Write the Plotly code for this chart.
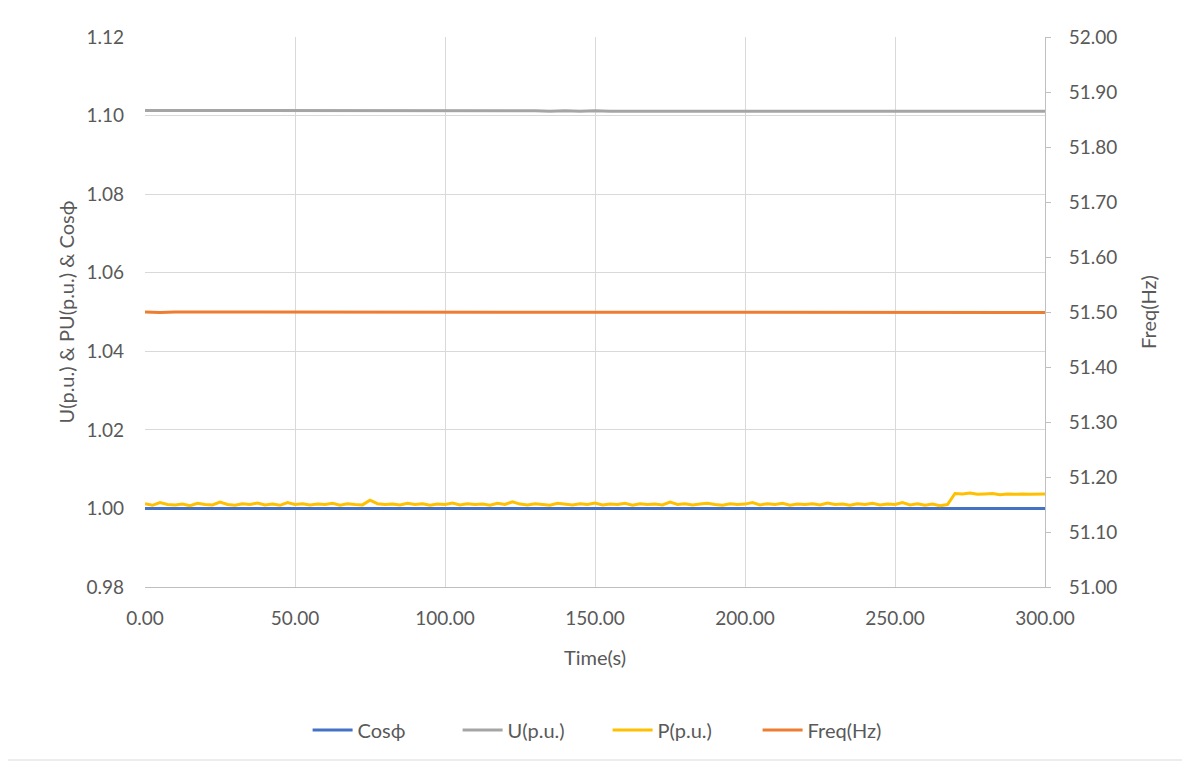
import plotly.graph_objects as go

# ---------------- data ----------------
T_FINE = [i * 2.5 for i in range(121)]      # time (s) for P
T = [i * 5 for i in range(61)]              # time (s) for other series

COS_PHI = [1.0000, 1.0000, 1.0000, 1.0000, 1.0000, 1.0000, 1.0000, 1.0000, 1.0000, 1.0000,
           1.0000, 1.0000, 1.0000, 1.0000, 1.0000, 1.0000, 1.0000, 1.0000, 1.0000, 1.0000,
           1.0000, 1.0000, 1.0000, 1.0000, 1.0000, 1.0000, 1.0000, 1.0000, 1.0000, 1.0000,
           1.0000, 1.0000, 1.0000, 1.0000, 1.0000, 1.0000, 1.0000, 1.0000, 1.0000, 1.0000,
           1.0000, 1.0000, 1.0000, 1.0000, 1.0000, 1.0000, 1.0000, 1.0000, 1.0000, 1.0000,
           1.0000, 1.0000, 1.0000, 1.0000, 1.0000, 1.0000, 1.0000, 1.0000, 1.0000, 1.0000,
           1.0000]

U_PU = [1.1013, 1.1013, 1.1013, 1.1013, 1.1013, 1.1013, 1.1013, 1.1013, 1.1013, 1.1013,
        1.1013, 1.1013, 1.1013, 1.1013, 1.1013, 1.1013, 1.1013, 1.1013, 1.1013, 1.1013,
        1.1013, 1.1013, 1.1013, 1.1013, 1.1013, 1.1012, 1.1012, 1.1011, 1.1012, 1.1011,
        1.1012, 1.1011, 1.1011, 1.1012, 1.1011, 1.1011, 1.1012, 1.1011, 1.1011, 1.1011,
        1.1012, 1.1011, 1.1011, 1.1011, 1.1011, 1.1012, 1.1011, 1.1011, 1.1011, 1.1011,
        1.1011, 1.1011, 1.1011, 1.1011, 1.1011, 1.1011, 1.1011, 1.1011, 1.1011, 1.1011,
        1.1011]

P_PU = [1.0012, 1.0008, 1.0015, 1.0010, 1.0009, 1.0011, 1.0007, 1.0013, 1.0010, 1.0009,
        1.0016, 1.0010, 1.0008, 1.0012, 1.0010, 1.0014, 1.0009, 1.0011, 1.0008, 1.0015,
        1.0010, 1.0012, 1.0009, 1.0011, 1.0010, 1.0013, 1.0008, 1.0012, 1.0010, 1.0009,
        1.0021, 1.0012, 1.0010, 1.0011, 1.0009, 1.0013, 1.0010, 1.0012, 1.0008, 1.0011,
        1.0010, 1.0014, 1.0009, 1.0012, 1.0010, 1.0011, 1.0008, 1.0013, 1.0010, 1.0017,
        1.0011, 1.0009, 1.0012, 1.0010, 1.0008, 1.0013, 1.0011, 1.0009, 1.0012, 1.0010,
        1.0014, 1.0009, 1.0011, 1.0010, 1.0013, 1.0008, 1.0012, 1.0010, 1.0011, 1.0009,
        1.0016, 1.0010, 1.0012, 1.0009, 1.0011, 1.0013, 1.0010, 1.0008, 1.0012, 1.0010,
        1.0011, 1.0015, 1.0009, 1.0012, 1.0010, 1.0013, 1.0008, 1.0011, 1.0010, 1.0012,
        1.0009, 1.0014, 1.0010, 1.0011, 1.0008, 1.0012, 1.0010, 1.0013, 1.0009, 1.0011,
        1.0010, 1.0015, 1.0009, 1.0012, 1.0008, 1.0011, 1.0007, 1.0010, 1.0038, 1.0037,
        1.0039, 1.0036, 1.0037, 1.0038, 1.0035, 1.0037, 1.0036, 1.0037, 1.0036, 1.0037,
        1.0037]

FREQ_HZ = [51.500, 51.499, 51.500, 51.500, 51.499, 51.500, 51.500, 51.499, 51.500, 51.500,
           51.500, 51.499, 51.500, 51.500, 51.499, 51.500, 51.500, 51.500, 51.499, 51.500,
           51.500, 51.499, 51.500, 51.500, 51.499, 51.500, 51.500, 51.499, 51.500, 51.500,
           51.499, 51.500, 51.500, 51.499, 51.500, 51.500, 51.499, 51.500, 51.500, 51.499,
           51.500, 51.500, 51.499, 51.500, 51.500, 51.499, 51.500, 51.500, 51.499, 51.500,
           51.500, 51.499, 51.500, 51.500, 51.499, 51.500, 51.500, 51.499, 51.500, 51.500,
           51.499]

NAMES = ["Cosϕ", "U(p.u.)", "P(p.u.)", "Freq(Hz)"]
COLORS = ["#4472C4", "#A5A5A5", "#FFC000", "#ED7D31"]

X_TICKS = [0, 50, 100, 150, 200, 250, 300]
Y_TICKS = [0.98, 1.00, 1.02, 1.04, 1.06, 1.08, 1.10, 1.12]
Y2_TICKS = [51.0, 51.1, 51.2, 51.3, 51.4, 51.5, 51.6, 51.7, 51.8, 51.9, 52.0]

# ---------------- figure ----------------
FONT = "Lato, 'Noto Sans', sans-serif"
TXT = "#595959"
GRID = "#D9D9D9"

fig = go.Figure()
fig.add_trace(go.Scatter(x=T, y=COS_PHI, name=NAMES[0], mode="lines",
                         line=dict(color=COLORS[0], width=3)))
fig.add_trace(go.Scatter(x=T, y=U_PU, name=NAMES[1], mode="lines",
                         line=dict(color=COLORS[1], width=3)))
fig.add_trace(go.Scatter(x=T_FINE, y=P_PU, name=NAMES[2], mode="lines",
                         line=dict(color=COLORS[2], width=3)))
fig.add_trace(go.Scatter(x=T, y=FREQ_HZ, name=NAMES[3], mode="lines", yaxis="y2",
                         line=dict(color=COLORS[3], width=3)))

fig.update_layout(
    width=1190, height=764,
    margin=dict(l=137, r=153, t=29, b=185),
    paper_bgcolor="white", plot_bgcolor="white",
    font=dict(family=FONT, color=TXT, size=19),
    showlegend=True,
    legend=dict(orientation="h", x=0.514, xanchor="center", y=-0.26, yanchor="middle",
                font=dict(size=20, color=TXT), itemwidth=40, entrywidth=95,
                tracegroupgap=0),
    xaxis=dict(range=[0, 300], tickvals=X_TICKS, tickformat=".2f",
               showgrid=True, gridcolor=GRID, gridwidth=1,
               showline=True, linecolor="#BFBFBF", linewidth=1,
               zeroline=False, ticks="", ticklabelstandoff=14,
               title=dict(text="Time(s)", font=dict(size=20, color=TXT), standoff=23)),
    yaxis=dict(range=[0.98, 1.12], tickvals=Y_TICKS, tickformat=".2f",
               showgrid=True, gridcolor=GRID, gridwidth=1,
               showline=False, zeroline=False, ticks="", ticklabelstandoff=20,
               title=dict(text="U(p.u.) & PU(p.u.) & Cosϕ", font=dict(size=20, color=TXT),
                          standoff=6)),
    yaxis2=dict(range=[51.0, 52.0], tickvals=Y2_TICKS, tickformat=".2f",
                overlaying="y", side="right", showgrid=False,
                showline=True, linecolor="#BFBFBF", linewidth=1,
                ticks="outside", ticklen=5, tickcolor="#BFBFBF",
                zeroline=False, ticklabelstandoff=14,
                title=dict(text="Freq(Hz)", font=dict(size=20, color=TXT), standoff=25)),
)

# outer chart border
fig.add_shape(type="rect", xref="paper", yref="paper",
              x0=(5 - 145) / 900, x1=(1185 - 145) / 900,
              y0=(587 - 760) / 550, y1=(587 - 3) / 550,
              line=dict(color="#D9D9D9", width=1), fillcolor="rgba(0,0,0,0)", layer="below")

fig.write_html("out.html")
